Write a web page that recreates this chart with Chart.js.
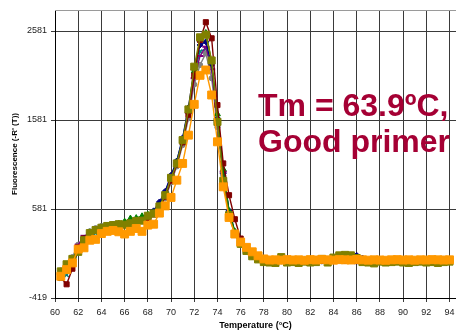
<!DOCTYPE html>
<html>
<head>
<meta charset="utf-8">
<script src="https://cdn.jsdelivr.net/npm/chart.js@4/dist/chart.umd.min.js"></script>
<style>
  html, body { margin: 0; padding: 0; background: #fff; overflow: hidden; }
  canvas { display: block; }
</style>
</head>
<body>
<canvas id="melt" width="456" height="331"></canvas>
<script>
// Melt curve: temperature steps (°C)
const temperatures = [
  60.5, 61, 61.5, 62, 62.5, 63, 63.5, 64, 64.5, 65, 65.5, 66, 66.5, 67, 67.5, 68, 68.5,
  69, 69.5, 70, 70.5, 71, 71.5, 72, 72.5, 73, 73.5, 74, 74.5, 75, 75.5, 76, 76.5, 77, 77.5,
  78, 78.5, 79, 79.5, 80, 80.5, 81, 81.5, 82, 82.5, 83, 83.5, 84, 84.5, 85, 85.5, 86, 86.5,
  87, 87.5, 88, 88.5, 89, 89.5, 90, 90.5, 91, 91.5, 92, 92.5, 93, 93.5, 94
];

// Derivative fluorescence, one array per well
const orangeWell = [
  -175, -100, -25, 130, 145, 230, 240, 305, 330, 340, 325, 300, 330, 362, 330, 400, 410,
  535, 616, 711, 905, 1093, 1411, 1757, 2083, 2143, 1862, 1336, 830, 486, 300, 210, 150, 100, 55,
  20, 8, 10, 6, 12, 8, 10, 5, 12, 8, 15, 10, 6, 12, 10, 8, 14, 10,
  6, 10, 8, 5, 10, 12, 8, 10, 6, 10, 8, 12, 10, 8, 10
];
const oliveWell = [
  -120, -40, 20, 100, 230, 310, 345, 370, 390, 400, 410, 405, 420, 447, 450, 505, 530,
  610, 736, 931, 1093, 1355, 1700, 2180, 2510, 2540, 2250, 1560, 897, 511, 300, 190, 110, 50, 15,
  -15, -20, -25, 40, -20, -15, -25, -10, -20, -15, 20, -20, 35, 60, 65, 60, 30, -15,
  -20, -30, -10, -20, -15, -10, -20, -25, -15, -10, -20, -15, -25, -15, -10
];
const darkRedWell = [
  -190, -265, -90, 150, 250, 300, 340, 360, 380, 395, 400, 400, 420, 440, 450, 480, 520,
  590, 720, 900, 1080, 1330, 1640, 2080, 2480, 2680, 2499, 1749, 1093, 736, 466, 249, 150, 70, 30,
  0, 5, -5, 10, 0, 5, -5, 0, 10, 5, 0, -5, 5, 10, 0, 5, -5, 0,
  5, 10, 0, -5, 5, 0, 5, 10, 0, -5, 5, 0, 5, 0, 5
];
const greenWell = [
  -140, -70, 10, 110, 240, 320, 350, 375, 395, 405, 415, 440, 475, 480, 500, 520, 545,
  620, 740, 920, 1100, 1340, 1680, 2130, 2480, 2560, 2237, 1648, 1029, 556, 330, 200, 120, 55, 20,
  5, 0, 10, -5, 5, 10, 0, 5, -5, 10, 5, 0, 15, 5, 0, 10, 5, -5,
  0, 5, 10, 0, 5, -5, 0, 10, 5, 0, 5, -5, 10, 5, 0
];
const navyWell = [
  -150, -100, 0, 120, 250, 315, 340, 365, 385, 395, 400, 410, 425, 440, 460, 500, 560,
  660, 780, 960, 1120, 1380, 1720, 2150, 2424, 2460, 2200, 1600, 980, 560, 320, 190, 110, 50, 20,
  0, 5, 0, -5, 10, 0, 5, 0, 10, 5, -5, 0, 5, 10, 20, 40, 60, 30,
  5, 0, 5, -5, 0, 10, 5, 0, -5, 5, 0, 10, 0, 5, 0
];
const purpleWell = [
  -150, -120, -20, 180, 280, 300, 330, 350, 360, 370, 380, 380, 390, 410, 430, 460, 520,
  620, 760, 940, 1100, 1360, 1660, 2050, 2300, 2405, 2150, 1560, 1000, 540, 310, 180, 100, 45, 15,
  -5, 0, 5, -5, 0, 10, 5, 0, -5, 5, 0, 10, 5, -5, 0, 5, 0, 10,
  5, 0, -5, 5, 0, 5, 10, 0, -5, 0, 5, 0, 10, 5, 0
];
const grayWell = [
  -110, -90, 40, 180, 256, 330, 365, 390, 400, 410, 420, 415, 420, 440, 460, 490, 530,
  600, 700, 880, 1060, 1300, 1600, 1980, 2200, 2330, 2050, 1500, 960, 520, 300, 175, 100, 45, 15,
  0, 5, 10, 0, -5, 5, 0, 10, 5, 0, 5, -5, 0, 5, 10, 0, 5, 0,
  -5, 10, 5, 0, 5, 0, 10, -5, 0, 5, 0, 5, 10, 0, 5
];
const tealWell = [
  -200, -160, -60, 100, 200, 270, 310, 340, 360, 370, 380, 390, 400, 420, 440, 480, 540,
  640, 770, 950, 1120, 1370, 1700, 2100, 2350, 2380, 2180, 1620, 1000, 560, 320, 190, 110, 50, 20,
  0, -5, 5, 0, 10, 5, 0, -5, 5, 0, 10, 0, 5, -5, 0, 5, 10, 0,
  5, 0, -5, 5, 0, 10, 5, 0, 5, -5, 0, 5, 0, 10, 0
];

// Axis tick positions
const xTicks = [60, 62, 64, 66, 68, 70, 72, 74, 76, 78, 80, 82, 84, 86, 88, 90, 92, 94];
const yTicks = [-419, 581, 1581, 2581];

const FONT = '"Liberation Sans", Arial, Helvetica, sans-serif';

// first entry is painted on top
const wells = [
  { name: 'Well 8', values: orangeWell,  color: '#FF9900', marker: 'rect',     size: 5.6, bw: 1 },
  { name: 'Well 7', values: oliveWell,   color: '#808000', marker: 'rect',     size: 5.0, bw: 1 },
  { name: 'Well 6', values: darkRedWell, color: '#800000', marker: 'rect',     size: 3.6, bw: 1 },
  { name: 'Well 5', values: greenWell,   color: '#008000', marker: 'triangle', size: 3.4, bw: 1 },
  { name: 'Well 4', values: navyWell,    color: '#000080', marker: 'rectRot',  size: 3.0, bw: 1 },
  { name: 'Well 3', values: purpleWell,  color: '#800080', marker: 'line',     size: 3.6, bw: 2 },
  { name: 'Well 2', values: grayWell,    color: '#808080', marker: 'circle',   size: 2.6, bw: 1 },
  { name: 'Well 1', values: tealWell,    color: '#008080', marker: 'crossRot', size: 3.0, bw: 1.5 }
];

const datasets = wells.map(w => ({
  label: w.name,
  data: w.values.map((v, i) => ({ x: temperatures[i], y: v })),
  borderColor: w.color,
  backgroundColor: w.color,
  borderWidth: 1.4,
  pointStyle: w.marker,
  pointRadius: w.size,
  pointBorderWidth: w.bw,
  pointBackgroundColor: w.color,
  pointBorderColor: w.color,
  tension: 0,
  clip: 6
}));

// frame line along the top of the plot and the Tm note
const extras = {
  id: 'extras',
  beforeDatasetsDraw(chart) {
    const { ctx, chartArea: a } = chart;
    ctx.save();
    ctx.strokeStyle = '#9a9a9a';
    ctx.lineWidth = 1;
    ctx.beginPath();
    ctx.moveTo(a.left, a.top + 0.5);
    ctx.lineTo(a.right, a.top + 0.5);
    ctx.stroke();
    ctx.restore();
  },
  afterDatasetsDraw(chart) {
    const { ctx } = chart;
    ctx.save();
    ctx.fillStyle = '#A50034';
    ctx.font = 'bold 32px ' + FONT;
    ctx.textAlign = 'left';
    ctx.textBaseline = 'alphabetic';
    ctx.fillText('Tm = 63.9ºC,', 258, 115.5);
    ctx.fillText('Good primer', 258, 152);
    ctx.restore();
  }
};

new Chart(document.getElementById('melt'), {
  type: 'line',
  data: { datasets },
  plugins: [extras],
  options: {
    responsive: false,
    animation: false,
    devicePixelRatio: 1,
    layout: { autoPadding: false, padding: { top: 10, right: 0, bottom: 0, left: 0 } },
    plugins: { legend: { display: false }, tooltip: { enabled: false } },
    scales: {
      x: {
        type: 'linear',
        min: 60,
        max: 94.56,
        afterBuildTicks: s => { s.ticks = xTicks.map(v => ({ value: v })); },
        afterFit: s => { s.height = 33; s.paddingLeft = 0; s.paddingRight = 0; },
        ticks: {
          callback: v => String(v),
          font: { family: FONT, size: 9 },
          color: '#222',
          padding: 5,
          maxRotation: 0,
          autoSkip: false
        },
        grid: { color: '#3a3a3a', lineWidth: 1, tickLength: 4, drawTicks: true },
        border: { color: '#000', width: 1 },
        title: {
          display: true,
          text: 'Temperature (°C)',
          font: { family: FONT, size: 9, weight: 'bold' },
          color: '#000',
          padding: { top: 0, bottom: 0 }
        }
      },
      y: {
        min: -419,
        max: 2817,
        afterBuildTicks: s => { s.ticks = yTicks.map(v => ({ value: v })); },
        afterFit: s => { s.width = 55; s.paddingTop = 0; s.paddingBottom = 0; },
        ticks: {
          callback: v => String(v),
          font: { family: FONT, size: 9 },
          color: '#222',
          padding: 4
        },
        grid: { color: '#3a3a3a', lineWidth: 1, tickLength: 4, drawTicks: true },
        border: { color: '#000', width: 1 },
        title: {
          display: true,
          text: "Fluorescence (-R' (T))",
          font: { family: FONT, size: 8, weight: 'bold' },
          color: '#000',
          padding: { top: 10, bottom: 0 }
        }
      }
    }
  }
});
</script>
</body>
</html>
